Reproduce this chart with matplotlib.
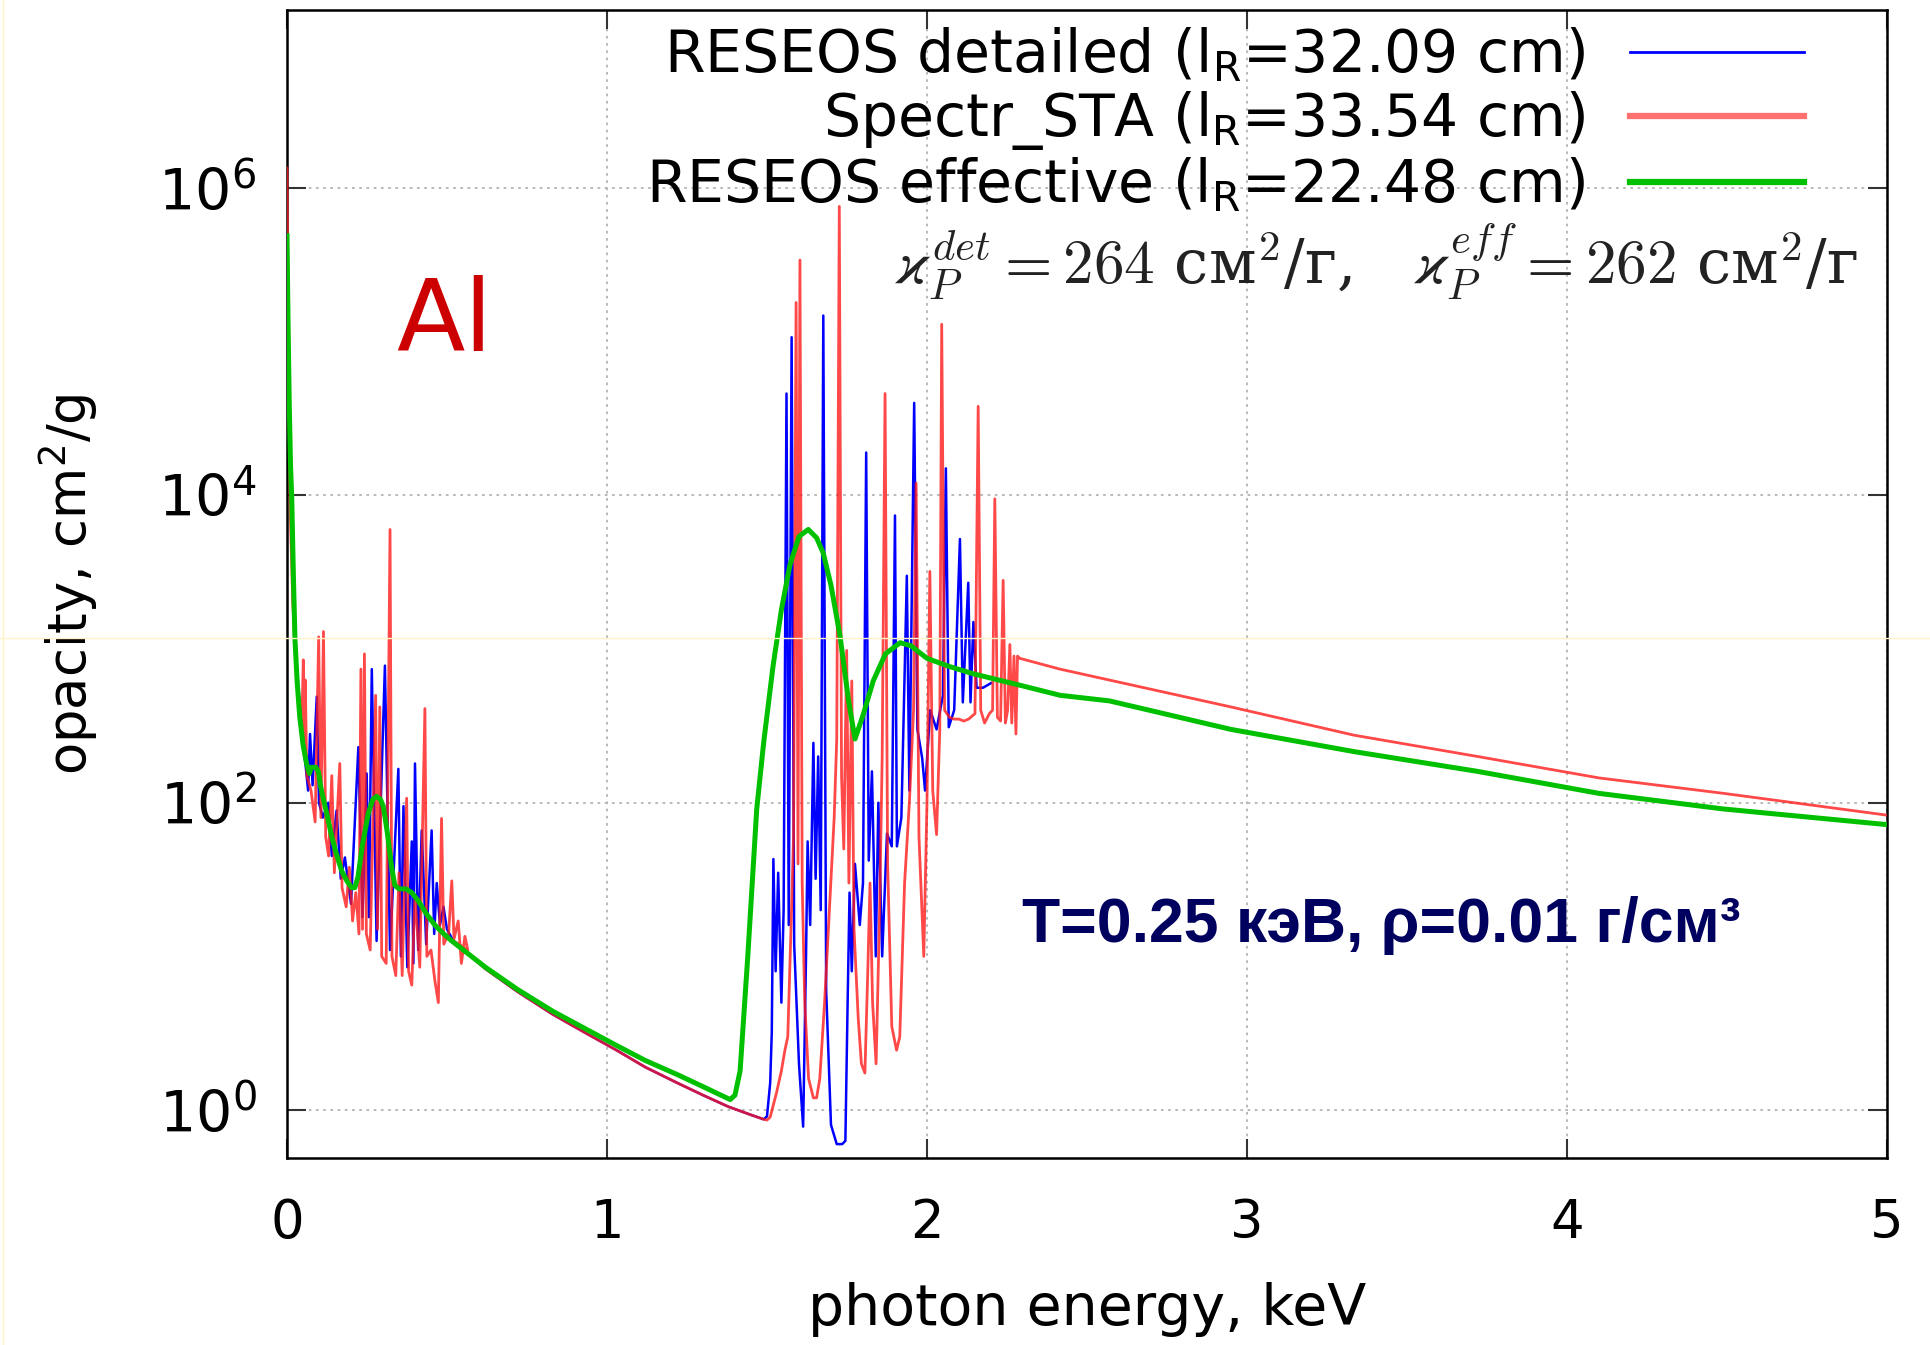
import numpy as np
import matplotlib.pyplot as plt
from matplotlib.lines import Line2D
from matplotlib.ticker import NullLocator

# photon energy (keV) / opacity (cm^2/g)

# RESEOS detailed
blue_low_e = [0.000, 0.008, 0.018, 0.030, 0.045, 0.060, 0.066, 0.072, 0.080, 0.093,
              0.100, 0.112, 0.129, 0.140, 0.155, 0.168, 0.181, 0.200, 0.223, 0.236,
              0.249, 0.256, 0.265, 0.280, 0.306, 0.322, 0.348, 0.356, 0.364, 0.376,
              0.390, 0.395, 0.400, 0.410, 0.421, 0.435, 0.452, 0.460, 0.468, 0.478,
              0.489, 0.500]
blue_low_k = [4e5, 3e4, 3e3, 8e2, 3.2e2, 1.6e2, 1.2e2, 2.8e2, 1.3e2, 4.9e2,
              1.0e2, 8.0e1, 1.0e2, 4.5e1, 8.9e1, 3.2e1, 4.4e1, 2.2e1, 2.3e2, 1.8e1,
              1.55e2, 1.8e1, 7.4e2, 1.26e1, 7.8e2, 1.1e1, 1.66e2, 1.0e1, 9.5e1, 8.5,
              5.6e1, 9.0, 1.8e2, 1.1e1, 6.6e1, 1.2e1, 6.6e1, 1.4e1, 3.0e1, 1.6e1,
              2.1e1, 1.5e1]

# smooth part between the L and K lines (detailed and Spectr_STA agree)
cont_e = [0.52, 0.62, 0.72, 0.83, 0.93, 1.03, 1.12, 1.22, 1.30, 1.38, 1.45, 1.49]
cont_k = [12.6, 8.3, 5.9, 4.2, 3.2, 2.45, 1.9, 1.5, 1.25, 1.05, 0.93, 0.87]

blue_k_e = [1.500, 1.510, 1.515, 1.520, 1.527, 1.535, 1.545, 1.552, 1.561, 1.568,
            1.577, 1.585, 1.600, 1.613, 1.622, 1.627, 1.635, 1.645, 1.652, 1.660,
            1.668, 1.676, 1.685, 1.700, 1.718, 1.735, 1.745, 1.752, 1.758, 1.765,
            1.775, 1.790, 1.800, 1.810, 1.818, 1.828, 1.840, 1.848, 1.860, 1.875,
            1.890, 1.900, 1.906, 1.920, 1.937, 1.945, 1.960, 1.970, 1.985, 1.994,
            2.010, 2.030, 2.050, 2.059, 2.068, 2.085, 2.103, 2.112, 2.129, 2.136,
            2.145, 2.155, 2.175, 2.200]
blue_k_k = [0.91, 1.5, 3.2, 43, 8, 35, 5, 20, 4.6e4, 16,
            1.07e5, 12, 2.0, 0.78, 10, 56, 16, 245, 32, 200,
            20, 1.48e5, 6, 0.8, 0.6, 0.6, 0.63, 5, 26, 8,
            40, 16, 30, 1.9e4, 42, 160, 10, 100, 10, 63,
            52, 7.4e3, 52, 80, 3.0e3, 120, 4.0e4, 300, 195, 120,
            400, 300, 500, 1.5e4, 310, 400, 5.2e3, 450, 2.7e3, 450,
            1.5e3, 560, 560, 600]

# Spectr_STA
red_low_e = [0.000, 0.004, 0.010, 0.018, 0.028, 0.038, 0.046, 0.051, 0.054, 0.057,
             0.062, 0.075, 0.088, 0.099, 0.106, 0.114, 0.121, 0.130, 0.140, 0.148,
             0.165, 0.172, 0.185, 0.195, 0.205, 0.215, 0.225, 0.231, 0.236, 0.242,
             0.248, 0.260, 0.277, 0.283, 0.290, 0.296, 0.310, 0.322, 0.328, 0.340,
             0.350, 0.360, 0.374, 0.380, 0.390, 0.400, 0.415, 0.431, 0.437, 0.450,
             0.462, 0.473, 0.483, 0.490, 0.505, 0.515, 0.522, 0.535, 0.545, 0.556,
             0.565]
red_low_k = [1.35e6, 1.0e5, 8e3, 2.0e3, 8e2, 4.5e2, 3.0e2, 8.5e2, 2.0e2, 6.3e2,
             1.5e2, 1.2e2, 7.5e1, 1.2e3, 8e1, 1.3e3, 6e1, 4.5e1, 1.5e2, 3.5e1,
             1.8e2, 2.8e1, 2.1e1, 3.8e1, 1.7e1, 2.6e1, 1.4e1, 7.4e2, 1.5e1, 9.3e2,
             1.4e1, 1.1e1, 5.0e2, 1.5e1, 4.2e2, 1.0e1, 9.0, 6.0e3, 1.0e1, 7.5,
             3.5e1, 7.5, 1.07e2, 8.0, 6.5, 2.5e1, 8.5, 4.1e2, 1.0e1, 1.1e1,
             7.0, 5.0, 7.9e1, 1.2e1, 1.4e1, 3.1e1, 1.3e1, 1.7e1, 9.0, 1.35e1,
             1.1e1]

red_k_e = [1.500, 1.510, 1.530, 1.545, 1.556, 1.565, 1.575, 1.583, 1.591, 1.597,
           1.603, 1.610, 1.618, 1.630, 1.645, 1.655, 1.665, 1.680, 1.695, 1.710,
           1.718, 1.726, 1.733, 1.740, 1.749, 1.756, 1.765, 1.772, 1.785, 1.795,
           1.806, 1.815, 1.822, 1.830, 1.841, 1.852, 1.860, 1.869, 1.877, 1.890,
           1.905, 1.915, 1.930, 1.945, 1.958, 1.966, 1.975, 1.990, 2.000, 2.009,
           2.018, 2.030, 2.040, 2.046, 2.055, 2.070, 2.085, 2.100, 2.115, 2.130,
           2.150, 2.160, 2.168, 2.180, 2.195, 2.205, 2.212, 2.220, 2.230, 2.238,
           2.245, 2.252, 2.259, 2.265, 2.272, 2.278, 2.283]
red_k_k = [0.86, 0.9, 1.3, 1.8, 2.45, 3.0, 15, 60, 1.8e5, 40,
           3.4e5, 30, 5, 1.6, 1.2, 1.2, 1.6, 5, 20, 80,
           260, 7.6e5, 150, 50, 980, 30, 620, 15, 4, 2,
           1.74, 8, 30, 5, 2.0, 20, 200, 4.6e4, 40, 3.5,
           2.45, 3, 30, 100, 400, 1.2e4, 60, 10, 100, 3.2e3,
           120, 62, 300, 1.3e5, 400, 360, 350, 350, 340, 350,
           380, 3.8e4, 400, 330, 380, 400, 9.5e3, 360, 340, 2.8e3,
           330, 400, 1.07e3, 330, 900, 280, 900]

red_tail_e = [2.29, 2.416, 2.95, 3.335, 3.72, 4.10, 4.49, 5.00]
red_tail_k = [870, 740, 420, 275, 200, 145, 115, 83]

# RESEOS effective
green_e = [0.000, 0.003, 0.007, 0.011, 0.015, 0.020, 0.025, 0.032, 0.040, 0.050,
           0.061, 0.070, 0.076, 0.090, 0.098, 0.106, 0.114, 0.127, 0.140, 0.155,
           0.171, 0.187, 0.202, 0.212, 0.222, 0.235, 0.254, 0.268, 0.280, 0.292,
           0.301, 0.313, 0.327, 0.337, 0.350, 0.372, 0.390, 0.410, 0.435, 0.462,
           0.490, 0.515, 0.62, 0.72, 0.83, 0.93, 1.03, 1.12, 1.22, 1.30,
           1.385, 1.400, 1.416, 1.440, 1.468, 1.490, 1.519, 1.545, 1.572, 1.600,
           1.629, 1.655, 1.676, 1.700, 1.728, 1.755, 1.775, 1.800, 1.832, 1.870,
           1.916, 1.950, 2.000, 2.070, 2.145, 2.300, 2.416, 2.570, 2.950, 3.335,
           3.720, 4.100, 4.490, 5.000]
green_k = [4.9e5, 1.5e5, 4e4, 1.6e4, 9.3e3, 3.0e3, 1.15e3, 6.0e2, 3.6e2, 2.4e2,
           1.8e2, 1.55e2, 1.7e2, 1.7e2, 1.6e2, 1.25e2, 1.05e2, 8e1, 6.0e1, 4.6e1,
           3.6e1, 3.1e1, 2.8e1, 2.8e1, 3.3e1, 5.2e1, 8.5e1, 1.05e2, 1.1e2, 1.05e2,
           9.5e1, 6.5e1, 3.8e1, 2.9e1, 2.75e1, 2.75e1, 2.6e1, 2.3e1, 1.9e1, 1.6e1,
           1.4e1, 1.26e1, 8.5, 6.1, 4.4, 3.4, 2.63, 2.1, 1.70, 1.42,
           1.17, 1.25, 1.8, 10, 91, 250, 776, 1.8e3, 3.55e3, 5.4e3,
           6.0e3, 5.3e3, 4.2e3, 2.6e3, 1.23e3, 4.6e2, 2.6e2, 3.7e2, 6.2e2, 9.3e2,
           1.1e3, 1.05e3, 8.7e2, 7.7e2, 6.9e2, 5.75e2, 5.0e2, 4.6e2, 3.0e2, 2.15e2,
           1.6e2, 1.15e2, 9.1e1, 7.2e1]

labels = [r'RESEOS detailed (l$\mathregular{_R}$=32.09 cm)',
          r'Spectr_STA (l$\mathregular{_R}$=33.54 cm)',
          r'RESEOS effective (l$\mathregular{_R}$=22.48 cm)']


def main():
    plt.rcParams['font.family'] = ['DejaVu Sans']
    fig = plt.figure(figsize=(19.3, 13.45), dpi=100)
    ax = fig.add_axes([0.1487, 0.139, 0.829, 0.8535])

    blue_e = np.concatenate([blue_low_e, cont_e, blue_k_e])
    blue_k = np.concatenate([blue_low_k, cont_k, blue_k_k])
    red_e = np.concatenate([red_low_e, cont_e, red_k_e, red_tail_e])
    red_k = np.concatenate([red_low_k, cont_k, red_k_k, red_tail_k])

    ax.plot(blue_e, blue_k, color='#0000ff', lw=1.8, zorder=3)
    ax.plot(red_e, red_k, color='#ff1a1a', lw=2.0, alpha=0.8, zorder=4)
    ax.plot(green_e, green_k, color='#00c000', lw=3.6, zorder=5)

    ax.set_yscale('log')
    ax.set_xlim(0, 5)
    ax.set_ylim(0.487, 1.44e7)
    ax.set_xticks([0, 1, 2, 3, 4, 5])
    ax.set_yticks([1, 1e2, 1e4, 1e6])
    ax.yaxis.set_minor_locator(NullLocator())

    ax.set_axisbelow(True)
    ax.grid(True, color='#b4b4b4', linestyle=(0, (1.5, 2.5)), lw=1.3)
    for s in ax.spines.values():
        s.set_linewidth(1.8)
    ax.tick_params(direction='in', length=14, width=1.5, color='#333333',
                   top=True, right=True)
    ax.tick_params(axis='x', pad=28, labelsize=38)
    ax.tick_params(axis='y', pad=22, labelsize=41)

    ax.set_xlabel('photon energy, keV', fontsize=41, va='top')
    ax.xaxis.set_label_coords(0.5, -0.108)
    ax.set_ylabel(r'opacity, cm$^2$/g', fontsize=38)
    ax.yaxis.set_label_coords(-0.117, 0.5)

    handles = [Line2D([], [], color='#0000ff', lw=2.0),
               Line2D([], [], color='#ff7070', lw=4.5),
               Line2D([], [], color='#00c000', lw=4.5)]
    ax.legend(handles, labels, loc='upper right', bbox_to_anchor=(0.952, 0.991),
              frameon=False, markerfirst=False, fontsize=42, handlelength=2.98,
              handletextpad=0.78, labelspacing=0.07, borderpad=0.1,
              borderaxespad=0)

    ax.text(0.49, 1.32e5, 'Al', color='#cc0000', fontsize=72,
            ha='center', va='center')
    ax.text(4.91, 3.3e5,
            r'$\varkappa_P^{det} = 264$ см$^2$/г,   $\varkappa_P^{eff} = 262$ см$^2$/г',
            math_fontfamily='cm', family=['DejaVu Serif'], fontsize=44,
            ha='right', va='center', color='#222222')
    ax.text(3.42, 16, 'T=0.25 кэВ, ρ=0.01 г/см³', color='#00005f', fontsize=45,
            fontweight='bold', family=['Liberation Sans', 'DejaVu Sans'],
            ha='center', va='center')

    # faint guide lines left over in the original picture
    fig.add_artist(Line2D([0, 1], [1 - 638 / 1345] * 2, transform=fig.transFigure,
                          color='#fff3c4', lw=1))
    fig.add_artist(Line2D([0.0015, 0.0015], [0, 1], transform=fig.transFigure,
                          color='#fff3c4', lw=1))

    fig.savefig('out.png', dpi=100)


if __name__ == '__main__':
    main()
